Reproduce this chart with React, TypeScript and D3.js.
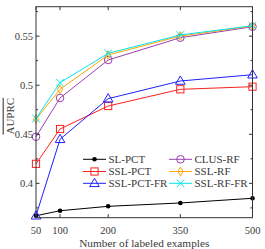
import React from "react";
import * as d3 from "d3";

const xValues = [50, 100, 200, 350, 500];
const xTickValues = [50, 100, 200, 350, 500];
const yTickValues = [0.4, 0.45, 0.5, 0.55];
const yMinorTicks = [0.375, 0.425, 0.475, 0.525, 0.575];

const slPct = [0.367, 0.3721, 0.3766, 0.38, 0.3848];
const sslPct = [0.4199, 0.4554, 0.4788, 0.4958, 0.4985];
const sslPctFr = [0.367, 0.4449, 0.4863, 0.5043, 0.5107];
const clusRf = [0.4475, 0.487, 0.5257, 0.5484, 0.5596];
const sslRf = [0.4656, 0.4958, 0.5308, 0.5501, 0.5603];
const sslRfFr = [0.4661, 0.5026, 0.5325, 0.5512, 0.5606];

const seriesNames = ["SL-PCT", "SSL-PCT", "SSL-PCT-FR", "CLUS-RF", "SSL-RF", "SSL-RF-FR"];
const seriesData = [slPct, sslPct, sslPctFr, clusRf, sslRf, sslRfFr];
const seriesColors = ["#000000", "#ff2020", "#2020ff", "#9b3fb0", "#ffa500", "#00e5ee"];
const seriesMarkers = ["dot", "square", "triangle", "circle", "diamond", "cross"];

const W = 265;
const H = 249;
const M = { left: 36, right: 252.5, top: 6.7, bottom: 217.7 };
const FONT = "'Liberation Serif', 'DejaVu Serif', serif";
const TEXT_COLOR = "#3a3a3a";

function Marker({ type, x, y, color }: { type: string; x: number; y: number; color: string }) {
  const sw = 1;
  if (type === "dot") return <circle cx={x} cy={y} r={2.3} fill={color} />;
  if (type === "square")
    return <rect x={x - 3.6} y={y - 3.6} width={7.2} height={7.2} fill="none" stroke={color} strokeWidth={sw} />;
  if (type === "triangle") {
    const p = d3.symbol().type(d3.symbolTriangle).size(40)();
    return <path d={p || ""} transform={`translate(${x},${y + 0.5})`} fill="none" stroke={color} strokeWidth={sw} />;
  }
  if (type === "circle") return <circle cx={x} cy={y} r={3.8} fill="none" stroke={color} strokeWidth={sw} />;
  if (type === "diamond") {
    const p = d3.symbol().type(d3.symbolDiamond).size(22)();
    return <path d={p || ""} transform={`translate(${x},${y})`} fill="none" stroke={color} strokeWidth={sw} />;
  }
  const p = d3.symbol().type(d3.symbolX).size(40)();
  return <path d={p || ""} transform={`translate(${x},${y})`} fill="none" stroke={color} strokeWidth={sw} />;
}

export default function App() {
  const x = d3.scaleLinear().domain([50, 500]).range([M.left, M.right]);
  const y = d3.scaleLinear().domain([0.365, 0.58]).range([M.bottom, M.top]);
  const line = d3
    .line<number>()
    .x((_, i) => x(xValues[i]))
    .y((d) => y(d));

  const legendRows = [159.3, 171.5, 183.3];
  const legendCols = [
    { x1: 83, x2: 106, tx: 108.5 },
    { x1: 169, x2: 192, tx: 194.5 },
  ];

  return (
    <svg width={W} height={H} style={{ position: "absolute", left: 0, top: 0, background: "#fff" }}>
      {seriesData.map((data, si) => (
        <g key={seriesNames[si]}>
          <path d={line(data) || ""} fill="none" stroke={seriesColors[si]} strokeWidth={1} />
          {data.map((v, i) => (
            <Marker key={i} type={seriesMarkers[si]} x={x(xValues[i])} y={y(v)} color={seriesColors[si]} />
          ))}
        </g>
      ))}

      <rect x={M.left} y={M.top} width={M.right - M.left} height={M.bottom - M.top} fill="none" stroke="#333" strokeWidth={1} />

      {yTickValues.map((t) => (
        <g key={t}>
          <line x1={M.left} x2={M.left + 3.5} y1={y(t)} y2={y(t)} stroke="#333" />
          <line x1={M.right} x2={M.right - 3.5} y1={y(t)} y2={y(t)} stroke="#333" />
          <text x={M.left - 3} y={y(t)} dy="0.33em" textAnchor="end" fontFamily={FONT} fontSize={10.5} fill={TEXT_COLOR}>
            {String(t)}
          </text>
        </g>
      ))}
      {yMinorTicks.map((t) => (
        <g key={t}>
          <line x1={M.left} x2={M.left + 2} y1={y(t)} y2={y(t)} stroke="#333" />
          <line x1={M.right} x2={M.right - 2} y1={y(t)} y2={y(t)} stroke="#333" />
        </g>
      ))}

      {xTickValues.map((t) => (
        <g key={t}>
          <line x1={x(t)} x2={x(t)} y1={M.bottom} y2={M.bottom - 3.5} stroke="#333" />
          <line x1={x(t)} x2={x(t)} y1={M.top} y2={M.top + 3.5} stroke="#333" />
          <text x={x(t)} y={231} dy="0.33em" textAnchor="middle" fontFamily={FONT} fontSize={10.5} fill={TEXT_COLOR}>
            {String(t)}
          </text>
        </g>
      ))}

      <text x={(M.left + M.right) / 2} y={243} dy="0.33em" textAnchor="middle" fontFamily={FONT} fontSize={11.3} fill={TEXT_COLOR}>
        Number of labeled examples
      </text>
      <text
        transform={`translate(10,${(M.top + M.bottom) / 2 + 4}) rotate(-90)`}
        textAnchor="middle"
        dy="0.33em"
        fontFamily={FONT}
        fontSize={11}
        fill={TEXT_COLOR}
        style={{ textDecoration: "overline" }}
      >
        AUPRC
      </text>

      {seriesNames.map((name, si) => {
        const col = legendCols[Math.floor(si / 3)];
        const ry = legendRows[si % 3];
        return (
          <g key={name}>
            <line x1={col.x1} x2={col.x2} y1={ry} y2={ry} stroke={seriesColors[si]} strokeWidth={1} />
            <Marker type={seriesMarkers[si]} x={(col.x1 + col.x2) / 2} y={ry} color={seriesColors[si]} />
            <text x={col.tx} y={ry} dy="0.33em" fontFamily={FONT} fontSize={11} fill={TEXT_COLOR}>
              {name}
            </text>
          </g>
        );
      })}
    </svg>
  );
}
